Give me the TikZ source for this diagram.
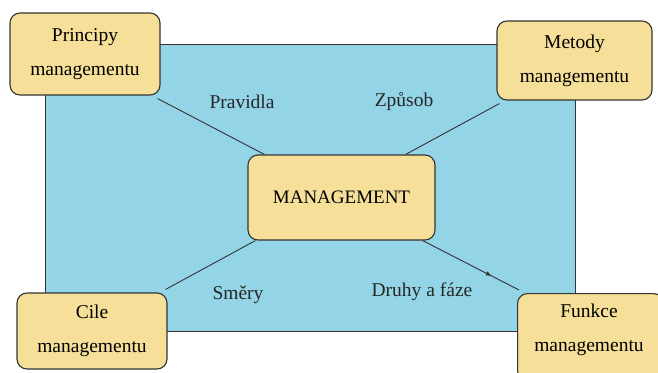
\documentclass[tikz,border=0pt]{standalone}
\usepackage{fontspec}
\setmainfont{Liberation Serif}
\usetikzlibrary{backgrounds,decorations.markings}
\definecolor{panelblue}{HTML}{93D5E6}
\definecolor{boxfill}{HTML}{F6DF99}
\definecolor{edgegray}{HTML}{333333}
\tikzset{
  topic/.style={draw=edgegray, line width=1.1pt, fill=boxfill, rounded corners=10pt,
    align=center, inner sep=0pt, font=\fontsize{19.5}{34}\selectfont},
  topictext/.style={align=center, inner sep=0pt, font=\fontsize{19.5}{34}\selectfont},
  link/.style={draw=edgegray, line width=0.9pt},
  tag/.style={font=\fontsize{19.5}{22}\selectfont, text=black!85},
  midtip/.style={postaction={decorate}, decoration={markings,
    mark=at position 0.72 with {\arrow[scale=1.1]{latex}}}}
}
\begin{document}
\begin{tikzpicture}[x=1pt, y=-1pt]
  \useasboundingbox (0,0) rectangle (658,372);

  % topic boxes
  \node[topic, minimum width=150pt, minimum height=82pt] (princ) at (85,54)
    {Principy\\managementu};
  \node[topic, minimum width=155pt, minimum height=79pt] (metod) at (574.5,60.5)
    {Metody\\managementu};
  \node[topic, minimum width=150pt, minimum height=76pt] (cile) at (92,331)
    {Cile\\managementu};
  % this box runs past the lower right edge of the page
  \node[topic, minimum width=146pt, minimum height=87pt, anchor=north west] (funk) at (517,293) {};
  \node[topictext] (funktext) at (589,329.5) {Funkce\\managementu};
  \node[topic, minimum width=187pt, minimum height=85pt,
        font=\fontsize{19}{22}\selectfont] (mgmt) at (341.5,197.5) {MANAGEMENT};

  \begin{scope}[on background layer]
    % central panel
    \node[draw=edgegray, line width=1pt, fill=panelblue, minimum width=530pt,
          minimum height=287pt, inner sep=0pt] (panel) at (310,187.5) {};
    % connectors between the boxes
    \draw[link] ([shift={(-3pt,-3pt)}]princ.south east) -- ([xshift=17pt]mgmt.north west);
    \draw[link] ([shift={(3pt,-3pt)}]metod.south west) -- ([xshift=-30pt]mgmt.north east);
    \draw[link] ([shift={(-2pt,3pt)}]cile.north east) -- ([xshift=8pt]mgmt.south west);
    \draw[link, midtip] ([xshift=-13pt]mgmt.south east) -- ([shift={(2pt,3pt)}]funk.north west);
  \end{scope}

  % connector labels
  \node[tag] (lpr) at (242,102) {Pravidla};
  \node[tag] (lzp) at (404,102) {Způsob};
  \node[tag] (lsm) at (238,295) {Směry};
  \node[tag] (ldr) at (422,292) {Druhy a fáze};
\end{tikzpicture}
\end{document}
